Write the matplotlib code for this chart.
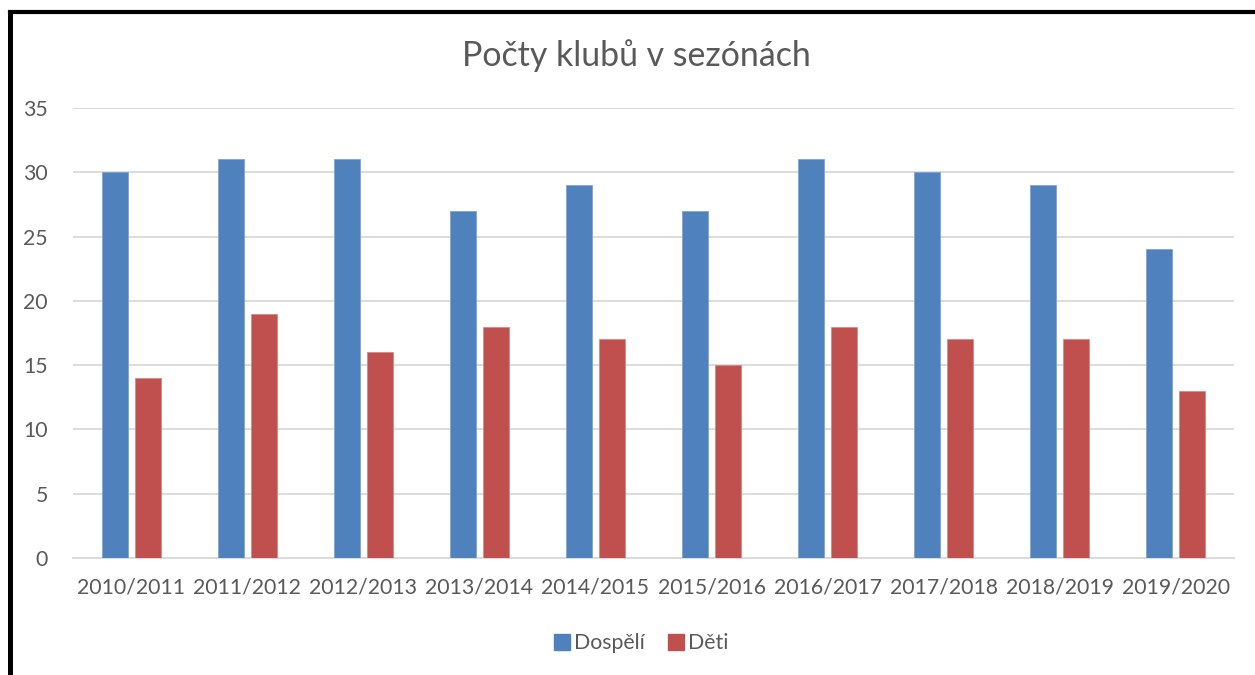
import matplotlib
matplotlib.use("Agg")
import matplotlib.pyplot as plt
import numpy as np
from matplotlib.lines import Line2D

seasons = ["2010/2011", "2011/2012", "2012/2013", "2013/2014", "2014/2015",
           "2015/2016", "2016/2017", "2017/2018", "2018/2019", "2019/2020"]
dospeli = [30, 31, 31, 27, 29, 27, 31, 30, 29, 24]
deti = [14, 19, 16, 18, 17, 15, 18, 17, 17, 13]
yticks = [0, 5, 10, 15, 20, 25, 30, 35]

plt.rcParams['font.family'] = ['Lato', 'DejaVu Sans']

W, H = 1255, 675
fig = plt.figure(figsize=(W / 100, H / 100), dpi=100)
ax = fig.add_axes([73 / W, 1 - 558 / H, (1234 - 73) / W, (558 - 108) / H])

x = np.arange(len(seasons))
bw = 0.224
off = 0.142
blue = "#4F81BD"
red = "#C0504D"
ax.bar(x - off, dospeli, bw, color=blue, edgecolor="#7FA3D0", linewidth=0.6, zorder=3)
ax.bar(x + off, deti, bw, color=red, edgecolor="#D48A88", linewidth=0.6, zorder=3)

ax.set_xlim(-0.5, len(seasons) - 0.5)
ax.set_ylim(0, 35)
ax.set_yticks(yticks)
ax.set_xticks(x)
ax.set_xticklabels(seasons)
ax.grid(axis='y', color="#D9D9D9", linewidth=1.3, zorder=0)
for s in ['top', 'right', 'left']:
    ax.spines[s].set_visible(False)
ax.spines['bottom'].set_color("#D9D9D9")
ax.spines['bottom'].set_linewidth(1.3)
ax.tick_params(axis='both', length=0, labelsize=15.3, colors="#595959")
ax.tick_params(axis='y', pad=18)
ax.tick_params(axis='x', pad=14)

fig.text(636 / W, 1 - 56 / H, "Počty klubů v sezónách", ha='center', va='center',
         fontsize=24.4, color="#595959")

handles = [Line2D([], [], marker='s', linestyle='none', markersize=11, color=blue),
           Line2D([], [], marker='s', linestyle='none', markersize=11, color=red)]
fig.legend(handles, ["Dospělí", "Děti"], loc='center', bbox_to_anchor=(640 / W, 1 - 643 / H),
           ncol=2, frameon=False, fontsize=15.3, labelcolor="#595959",
           handletextpad=0.05, columnspacing=1.0, handlelength=1.0)

# black frame on left and top
fig.add_artist(Line2D([9.5 / W, 9.5 / W], [0, 1 - 11.5 / H], transform=fig.transFigure,
                      color='black', linewidth=3.6, solid_capstyle='projecting'))
fig.add_artist(Line2D([9.5 / W, 1], [1 - 11.5 / H, 1 - 11.5 / H], transform=fig.transFigure,
                      color='black', linewidth=3.0, solid_capstyle='projecting'))

fig.savefig("out.png", dpi=100)
